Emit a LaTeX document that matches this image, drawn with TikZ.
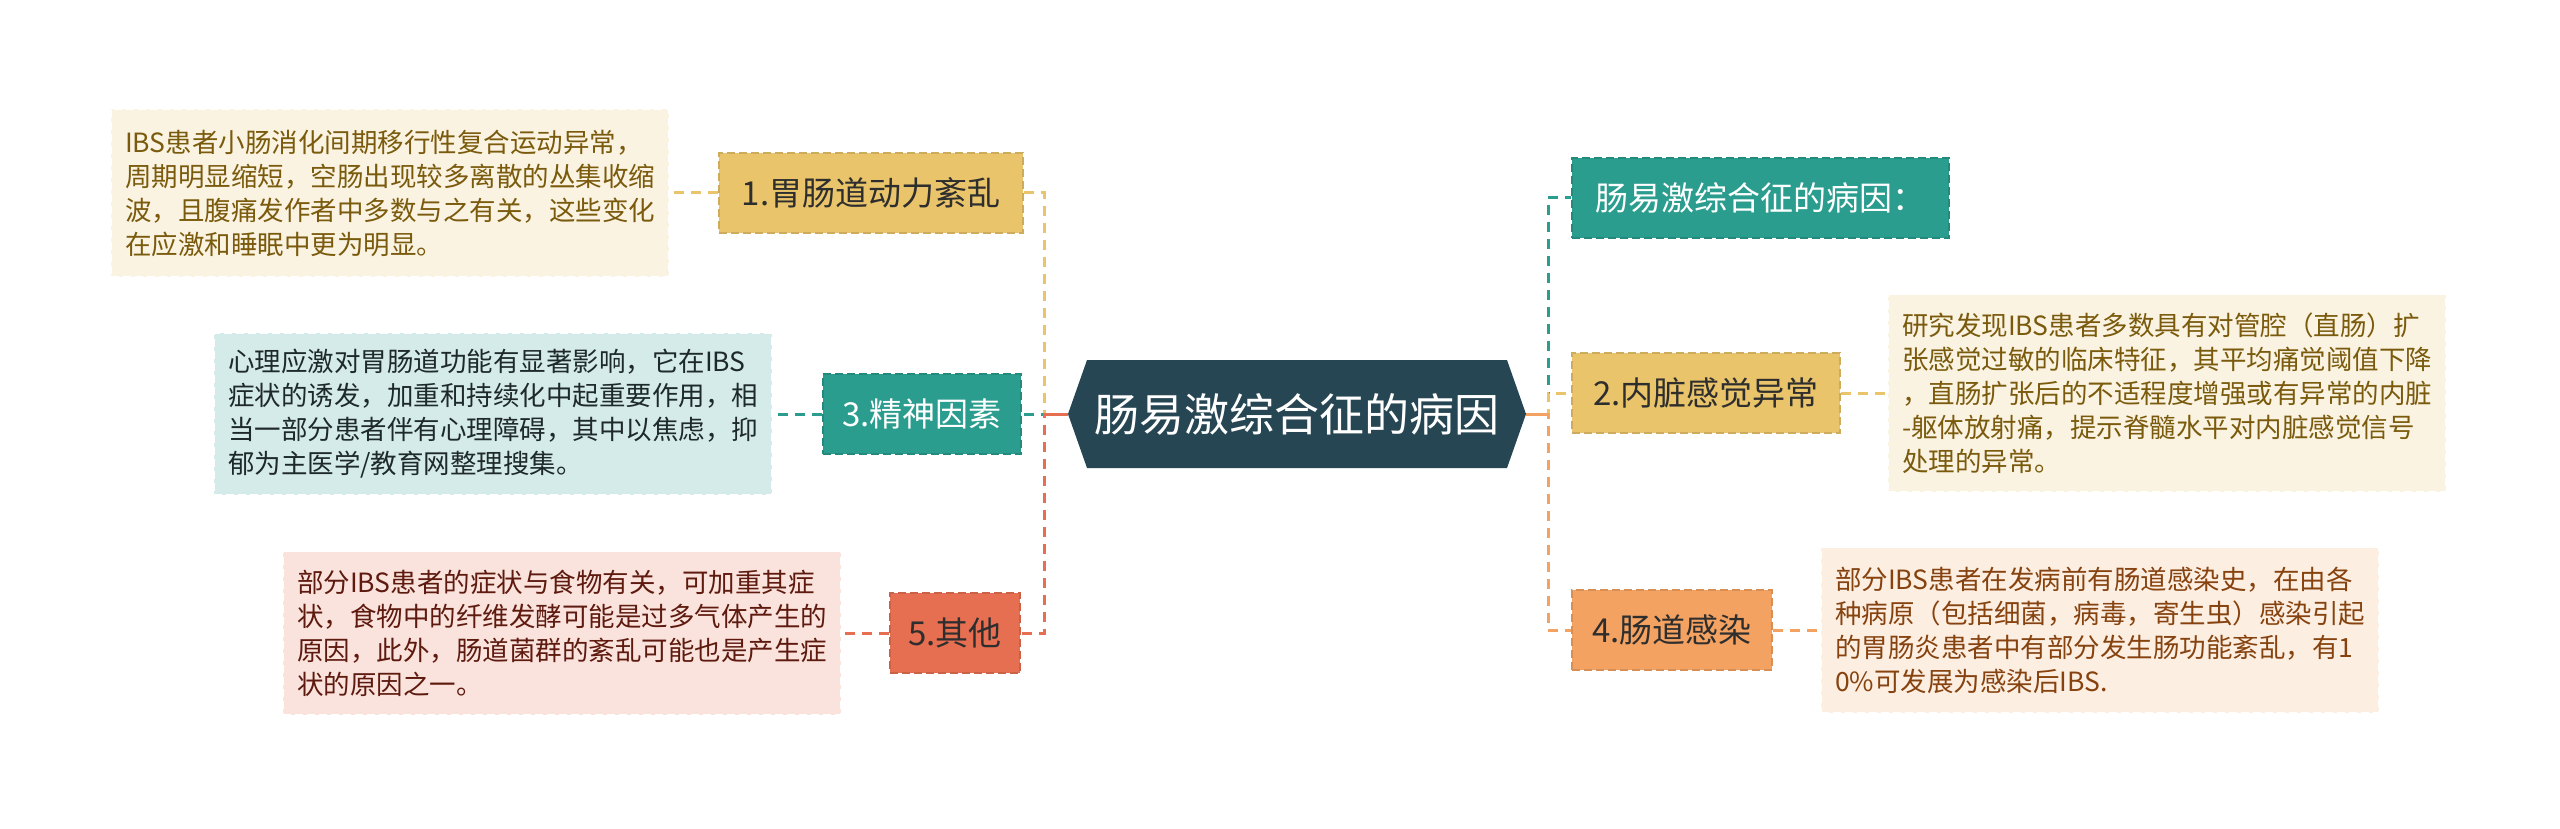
\documentclass[tikz,border=0pt]{standalone}
\usepackage{fontspec}
\newfontfamily\cjk{Noto Sans CJK SC}
\definecolor{cdark}{HTML}{264653}
\definecolor{cteal}{HTML}{2A9D8F}
\definecolor{cgold}{HTML}{E9C46A}
\definecolor{corange}{HTML}{F4A261}
\definecolor{cred}{HTML}{E76F51}
\definecolor{fgold}{HTML}{FAF3E2}
\definecolor{fteal}{HTML}{D5EBE9}
\definecolor{fred}{HTML}{FAE3DD}
\definecolor{forange}{HTML}{FDEEE2}
\definecolor{tgold}{HTML}{7A5A0C}
\definecolor{tteal}{HTML}{1E2A2A}
\definecolor{tred}{HTML}{5E1A0E}
\definecolor{torange}{HTML}{86430F}
\definecolor{tdark}{HTML}{2E2E2E}
\begin{document}
\begin{tikzpicture}[x=1pt,y=-1pt,
  conn/.style={line width=3pt, dash pattern=on 10pt off 7pt},
  branch/.style={fill=#1, draw=#1!88!black, dash pattern=on 8pt off 4pt, line width=2pt,
     minimum height=80pt, inner sep=0pt, text=tdark,
     font=\cjk\fontsize{33}{40}\selectfont},
  detail/.style={fill=#1, draw=white, dash pattern=on 8pt off 4pt, line width=1.5pt,
     text width=530pt, align=left, inner xsep=14pt, inner ysep=0pt,
     font=\cjk\fontsize{26.5}{34}\selectfont}
]
\useasboundingbox (0,0) rectangle (2560,829);

% central hexagon
\fill[cdark] (1068,414) -- (1087,360) -- (1507,360) -- (1526,414) -- (1507,468) -- (1087,468) -- cycle;
\node[inner sep=0pt, minimum width=458pt, minimum height=108pt, text=white,
      font=\cjk\fontsize{45}{54}\selectfont] (c) at (1297,414) {肠易激综合征的病因};

% left branches
\node[branch=cgold, minimum width=304pt] (b1) at (871,193) {1.胃肠道动力紊乱};
\node[branch=cteal, minimum width=198pt, text=white] (b3) at (922,414) {3.精神因素};
\node[branch=cred, minimum width=130pt] (b5) at (955,633) {5.其他};

\node[detail=fgold, text=tgold, minimum height=167pt] (d1) at (390,193)
  {IBS患者小肠消化间期移行性复合运动异常，\\周期明显缩短，空肠出现较多离散的丛集收缩\\波，且腹痛发作者中多数与之有关，这些变化\\在应激和睡眠中更为明显。};
\node[detail=fteal, text=tteal, minimum height=162pt] (d3) at (493,414)
  {心理应激对胃肠道功能有显著影响，它在IBS\\症状的诱发，加重和持续化中起重要作用，相\\当一部分患者伴有心理障碍，其中以焦虑，抑\\郁为主医学/教育网整理搜集。};
\node[detail=fred, text=tred, minimum height=163pt] (d5) at (562,633)
  {部分IBS患者的症状与食物有关，可加重其症\\状，食物中的纤维发酵可能是过多气体产生的\\原因，此外，肠道菌群的紊乱可能也是产生症\\状的原因之一。};

% right branches
\node[branch=cteal, minimum width=377pt, text=white] (r1) at (1760,198) {肠易激综合征的病因：};
\node[branch=cgold, minimum width=268pt] (r2) at (1706,393) {2.内脏感觉异常};
\node[branch=corange, minimum width=200pt] (r4) at (1672,630) {4.肠道感染};

\node[detail=fgold, text=tgold, minimum height=197pt] (dr2) at (2167,393)
  {研究发现IBS患者多数具有对管腔（直肠）扩\\张感觉过敏的临床特征，其平均痛觉阈值下降\\，直肠扩张后的不适程度增强或有异常的内脏\\-躯体放射痛，提示脊髓水平对内脏感觉信号\\处理的异常。};
\node[detail=forange, text=torange, minimum height=165pt] (dr4) at (2100,630)
  {部分IBS患者在发病前有肠道感染史，在由各\\种病原（包括细菌，病毒，寄生虫）感染引起\\的胃肠炎患者中有部分发生肠功能紊乱，有1\\0\%可发展为感染后IBS.};

% connectors left
\draw[conn, cgold] (c.west) -- ++(-23,0) |- (b1.east);
\draw[conn, cteal] (c.west) -- ++(-23,0) -- (b3.east);
\draw[conn, cred] (c.west) -- ++(-23,0) |- (b5.east);
\draw[cred, line width=3pt] (c.west) -- ++(-23,0);
\draw[conn, cgold] (b1.west) -- (d1.east);
\draw[conn, cteal] (b3.west) -- (d3.east);
\draw[conn, cred] (b5.west) -- (d5.east);

% connectors right
\draw[conn, cteal] (c.east) -- ++(22,0) |- (r1.west);
\draw[conn, cgold] (c.east) -- ++(22,0) |- (r2.west);
\draw[conn, corange] (c.east) -- ++(22,0) |- (r4.west);
\draw[corange, line width=3pt] (c.east) -- ++(22,0);
\draw[conn, cgold] (r2.east) -- (dr2.west);
\draw[conn, corange] (r4.east) -- (dr4.west);
\end{tikzpicture}
\end{document}
